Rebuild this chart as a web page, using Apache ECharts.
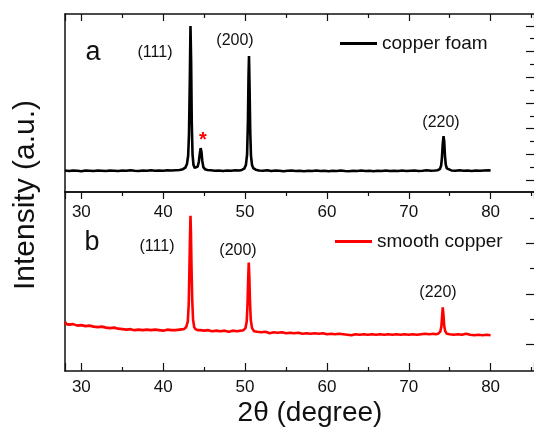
<!DOCTYPE html>
<html>
<head>
<meta charset="utf-8">
<script src="https://cdn.jsdelivr.net/npm/echarts@6/dist/echarts.min.js"></script>
<style>html,body{margin:0;padding:0;background:#fff}#c{width:534px;height:429px}</style>
</head>
<body>
<div id="c"></div>
<script>
// ---- data (2θ in degrees, intensity in arbitrary units) ----
var foamName = 'copper foam';
var smoothName = 'smooth copper';
var xLimits = [28, 85.3];
var foamYLimits = [-0.47, 6.464];
var smoothYLimits = [-0.53, 3.02];
var foamMajorTicks = [0, 1, 2, 3, 4, 5, 6];
var foamMinorTicks = [0.5, 1.5, 2.5, 3.5, 4.5, 5.5];
var smoothMajorTicks = [0, 1, 2];
var smoothMinorTicks = [0.5, 1.5, 2.5];
var foamPeakLabels = ['(111)', '(200)', '(220)'];
var smoothPeakLabels = ['(111)', '(200)', '(220)'];

var foamData = [
[28.0,0.37],[28.5,0.35],[29.0,0.37],[29.5,0.36],[30.0,0.34],[30.5,0.37],[31.0,0.36],[31.5,0.35],
[32.0,0.37],[32.5,0.36],[33.0,0.35],[33.5,0.37],[34.0,0.36],[34.5,0.35],[35.0,0.37],[35.5,0.36],
[36.0,0.38],[36.5,0.36],[37.0,0.35],[37.5,0.37],[38.0,0.36],[38.5,0.38],[39.0,0.36],[39.5,0.37],
[40.0,0.36],[40.5,0.38],[41.0,0.37],[41.5,0.38],[42.0,0.39],[42.4,0.42],[42.7,0.48],[42.9,0.62],
[43.05,0.95],[43.15,1.8],[43.25,3.9],[43.33,6.0],[43.41,4.6],[43.49,2.2],[43.58,1.0],[43.7,0.58],
[43.85,0.47],[44.0,0.46],[44.2,0.52],[44.35,0.7],[44.45,0.98],[44.57,1.24],[44.67,1.1],[44.77,0.75],
[44.9,0.5],[45.1,0.42],[45.4,0.39],[45.8,0.38],[46.3,0.36],[46.8,0.37],[47.3,0.35],[47.8,0.37],
[48.3,0.36],[48.8,0.38],[49.3,0.37],[49.6,0.39],[49.9,0.44],[50.1,0.58],[50.25,1.0],[50.35,2.3],
[50.42,4.0],[50.48,4.83],[50.55,3.6],[50.63,1.9],[50.72,0.95],[50.85,0.58],[51.0,0.46],[51.3,0.40],
[51.7,0.37],[52.2,0.36],[52.7,0.38],[53.2,0.35],[53.7,0.37],[54.2,0.36],[54.7,0.34],[55.2,0.36],
[55.7,0.37],[56.2,0.35],[56.7,0.36],[57.2,0.34],[57.7,0.36],[58.2,0.35],[58.7,0.37],[59.2,0.35],
[59.7,0.36],[60.2,0.34],[60.7,0.36],[61.2,0.35],[61.7,0.37],[62.2,0.35],[62.7,0.34],[63.2,0.36],
[63.7,0.35],[64.2,0.37],[64.7,0.35],[65.2,0.36],[65.7,0.34],[66.2,0.36],[66.7,0.35],[67.2,0.37],
[67.7,0.35],[68.2,0.36],[68.7,0.35],[69.2,0.37],[69.7,0.35],[70.2,0.36],[70.7,0.37],[71.2,0.35],
[71.7,0.36],[72.2,0.38],[72.7,0.36],[73.2,0.37],[73.5,0.38],[73.8,0.42],[73.95,0.55],[74.05,0.85],
[74.15,1.4],[74.25,1.71],[74.33,1.5],[74.42,0.95],[74.52,0.6],[74.65,0.45],[74.85,0.39],[75.2,0.37],
[75.7,0.36],[76.2,0.38],[76.7,0.36],[77.2,0.37],[77.7,0.35],[78.2,0.37],[78.7,0.36],[79.2,0.37],
[79.7,0.38],[80.0,0.37]
];

var smoothData = [
[28.0,0.44],[28.2,0.40],[28.5,0.39],[29.0,0.40],[29.5,0.37],[30.0,0.38],[30.5,0.36],[31.0,0.37],
[31.5,0.35],[32.0,0.34],[32.5,0.35],[33.0,0.33],[33.5,0.32],[34.0,0.33],[34.5,0.31],[35.0,0.30],
[35.5,0.29],[36.0,0.30],[36.5,0.28],[37.0,0.29],[37.5,0.28],[38.0,0.29],[38.5,0.28],[39.0,0.29],
[39.5,0.28],[40.0,0.27],[40.5,0.29],[41.0,0.28],[41.5,0.28],[42.0,0.29],[42.5,0.30],[42.8,0.34],
[43.0,0.45],[43.12,0.8],[43.2,1.5],[43.27,2.1],[43.33,2.55],[43.39,2.2],[43.46,1.5],[43.54,0.9],
[43.64,0.5],[43.78,0.34],[43.95,0.30],[44.2,0.28],[44.5,0.28],[45.0,0.27],[45.5,0.28],[46.0,0.26],[46.5,0.27],
[47.0,0.26],[47.5,0.27],[48.0,0.25],[48.5,0.27],[49.0,0.26],[49.5,0.27],[49.8,0.28],[50.05,0.32],
[50.2,0.45],[50.3,0.8],[50.38,1.3],[50.45,1.62],[50.52,1.35],[50.6,0.85],[50.7,0.48],[50.85,0.32],
[51.1,0.26],[51.5,0.25],[52.0,0.24],[52.5,0.25],[53.0,0.22],[53.5,0.24],[54.0,0.23],[54.5,0.24],
[55.0,0.22],[55.5,0.23],[56.0,0.22],[56.5,0.23],[57.0,0.21],[57.5,0.22],[58.0,0.21],[58.5,0.22],
[59.0,0.21],[59.5,0.22],[60.0,0.20],[60.5,0.21],[61.0,0.20],[61.5,0.21],[62.0,0.20],[62.5,0.19],
[63.0,0.18],[63.5,0.20],[64.0,0.19],[64.5,0.20],[65.0,0.19],[65.5,0.20],[66.0,0.19],[66.5,0.20],
[67.0,0.19],[67.5,0.20],[68.0,0.19],[68.5,0.20],[69.0,0.19],[69.5,0.20],[70.0,0.19],[70.5,0.20],
[71.0,0.19],[71.5,0.20],[72.0,0.21],[72.5,0.20],[73.0,0.21],[73.3,0.20],[73.6,0.21],[73.85,0.25],
[73.98,0.35],[74.07,0.55],[74.15,0.73],[74.23,0.6],[74.32,0.38],[74.45,0.26],[74.65,0.21],[75.0,0.20],
[75.5,0.19],[76.0,0.20],[76.5,0.19],[77.0,0.21],[77.5,0.19],[78.0,0.18],[78.5,0.19],[79.0,0.18],
[79.5,0.19],[80.0,0.18]
];

// ---- chart ----
var FONT = "'Liberation Sans', Arial, sans-serif";
var AX = '#111';
var chart = echarts.init(document.getElementById('c'), null, {renderer: 'canvas'});

function xAx(grid, pos, opts) {
  var o = {
    type: 'value', gridIndex: grid, position: pos, min: xLimits[0], max: xLimits[1],
    splitLine: {show: false},
    axisLine: {show: true, onZero: false, lineStyle: {color: AX, width: 1.5}},
    axisTick: {show: false},
    minorTick: {show: false},
    axisLabel: {show: false}
  };
  return Object.assign(o, opts || {});
}
function yAx(grid, pos, lim, opts) {
  var o = {
    type: 'value', gridIndex: grid, position: pos, min: lim[0], max: lim[1],
    splitLine: {show: false},
    axisLine: {show: pos === 'left', onZero: false, lineStyle: {color: AX, width: 1.5}},
    axisTick: {show: false},
    axisLabel: {show: false}
  };
  return Object.assign(o, opts || {});
}
var majTick = function (len) { return {show: true, inside: true, length: len, lineStyle: {color: AX, width: 1.2}}; };
var minTick = function (len) { return {show: true, splitNumber: 2, length: len, lineStyle: {color: AX, width: 1.2}}; };
var labelStyle = function (margin) {
  return {show: true, margin: margin, fontSize: 17, color: '#111', fontFamily: FONT, showMinLabel: false, showMaxLabel: false};
};

var option = {
  animation: false,
  backgroundColor: '#fff',
  grid: [
    {left: 65, top: 14, width: 469, height: 178},
    {left: 65, top: 192, width: 469, height: 179}
  ],
  xAxis: [
    xAx(0, 'bottom', {axisLabel: labelStyle(12)}),
    xAx(0, 'top', {axisTick: majTick(7), minorTick: minTick(4)}),
    xAx(1, 'bottom', {axisTick: majTick(8), minorTick: minTick(4), axisLabel: labelStyle(8)}),
    xAx(1, 'top', {axisTick: majTick(7), minorTick: minTick(4)})
  ],
  yAxis: [
    yAx(0, 'left', foamYLimits),
    yAx(0, 'right', foamYLimits, {axisTick: Object.assign(majTick(8), {customValues: foamMajorTicks})}),
    yAx(0, 'right', foamYLimits, {axisTick: Object.assign(majTick(4), {customValues: foamMinorTicks})}),
    yAx(1, 'left', smoothYLimits),
    yAx(1, 'right', smoothYLimits, {axisTick: Object.assign(majTick(8), {customValues: smoothMajorTicks})}),
    yAx(1, 'right', smoothYLimits, {axisTick: Object.assign(majTick(4), {customValues: smoothMinorTicks})})
  ],
  legend: [
    {data: [foamName], left: 340, top: 34, padding: 0, itemWidth: 37, itemHeight: 3, icon: 'rect',
     textStyle: {fontSize: 19, color: '#111', fontFamily: FONT}},
    {data: [smoothName], left: 335, top: 232, padding: 0, itemWidth: 37, itemHeight: 3, icon: 'rect',
     textStyle: {fontSize: 19, color: '#111', fontFamily: FONT}}
  ],
  series: [
    {name: foamName, type: 'line', xAxisIndex: 0, yAxisIndex: 0, data: foamData, showSymbol: false,
     symbol: 'none', sampling: null, color: '#000', lineStyle: {color: '#000', width: 2.6}},
    {name: smoothName, type: 'line', xAxisIndex: 2, yAxisIndex: 3, data: smoothData, showSymbol: false,
     symbol: 'none', sampling: null, color: '#ff0000', lineStyle: {color: '#ff0000', width: 2.6}}
  ],
  graphic: [
    {type: 'text', x: 26, y: 195, rotation: Math.PI / 2,
     style: {text: 'Intensity (a.u.)', font: '30px ' + FONT, fill: '#111', align: 'center', verticalAlign: 'middle'}},
    {type: 'text', x: 310, y: 413,
     style: {text: '2θ (degree)', font: '28px ' + FONT, fill: '#111', align: 'center', verticalAlign: 'middle'}},
    {type: 'text', x: 93, y: 53, style: {text: 'a', font: '27px ' + FONT, fill: '#111', align: 'center', verticalAlign: 'middle'}},
    {type: 'text', x: 92, y: 243, style: {text: 'b', font: '27px ' + FONT, fill: '#111', align: 'center', verticalAlign: 'middle'}},
    {type: 'text', x: 155, y: 53, style: {text: foamPeakLabels[0], font: '16px ' + FONT, fill: '#111', align: 'center', verticalAlign: 'middle'}},
    {type: 'text', x: 235, y: 41, style: {text: foamPeakLabels[1], font: '16px ' + FONT, fill: '#111', align: 'center', verticalAlign: 'middle'}},
    {type: 'text', x: 441, y: 123, style: {text: foamPeakLabels[2], font: '16px ' + FONT, fill: '#111', align: 'center', verticalAlign: 'middle'}},
    {type: 'text', x: 157, y: 247, style: {text: smoothPeakLabels[0], font: '16px ' + FONT, fill: '#111', align: 'center', verticalAlign: 'middle'}},
    {type: 'text', x: 238, y: 251, style: {text: smoothPeakLabels[1], font: '16px ' + FONT, fill: '#111', align: 'center', verticalAlign: 'middle'}},
    {type: 'text', x: 438, y: 293, style: {text: smoothPeakLabels[2], font: '16px ' + FONT, fill: '#111', align: 'center', verticalAlign: 'middle'}},
    {type: 'text', x: 203, y: 140, style: {text: '*', font: 'bold 20px ' + FONT, fill: '#ff0000', align: 'center', verticalAlign: 'middle'}}
  ]
};
chart.setOption(option);
</script>
</body>
</html>
